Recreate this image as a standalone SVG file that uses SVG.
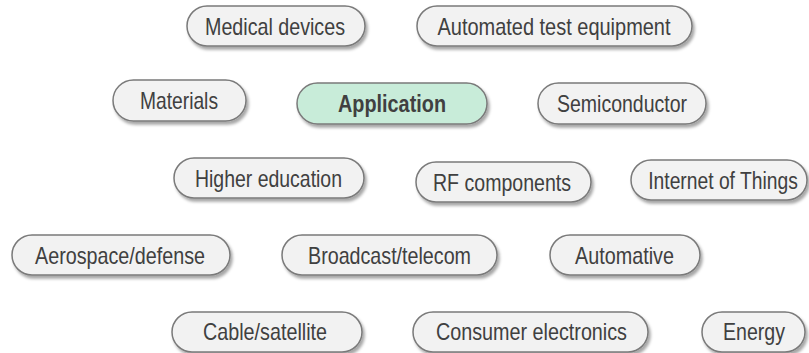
<svg xmlns="http://www.w3.org/2000/svg" width="809" height="353" viewBox="0 0 809 353">
<defs>
<filter id="sh" x="-10%" y="-20%" width="125%" height="160%">
<feDropShadow dx="2" dy="3" stdDeviation="1.8" flood-color="#000" flood-opacity="0.35"/>
</filter>
</defs>
<style>
.p{fill:#f2f2f2;stroke:#7a7a7a;stroke-width:1.5;filter:url(#sh)}
.a{fill:#c8ecd9}
.t{font-family:"Liberation Sans",Arial,sans-serif;font-size:24px;fill:#404040;text-anchor:middle}
.b{font-weight:bold}
</style>
<rect width="809" height="353" fill="#fff"/>
<g id="connectors"/>
<g id="n-medical"><rect class="p" x="187" y="6" width="178" height="40" rx="20"/><text class="t" x="275" y="35" textLength="140" lengthAdjust="spacingAndGlyphs">Medical devices</text></g>
<g id="n-ate"><rect class="p" x="417" y="6" width="275" height="40" rx="20"/><text class="t" x="554" y="35" textLength="233" lengthAdjust="spacingAndGlyphs">Automated test equipment</text></g>
<g id="n-materials"><rect class="p" x="113" y="80" width="133" height="41" rx="20.5"/><text class="t" x="179" y="109" textLength="78" lengthAdjust="spacingAndGlyphs">Materials</text></g>
<g id="n-application"><rect class="p a" x="297" y="83" width="190" height="41" rx="20.5"/><text class="t b" x="392" y="112" textLength="108" lengthAdjust="spacingAndGlyphs">Application</text></g>
<g id="n-semiconductor"><rect class="p" x="538" y="83" width="168" height="41" rx="20.5"/><text class="t" x="622" y="112" textLength="130" lengthAdjust="spacingAndGlyphs">Semiconductor</text></g>
<g id="n-higher"><rect class="p" x="174" y="158" width="190" height="40" rx="20"/><text class="t" x="268.5" y="187" textLength="147" lengthAdjust="spacingAndGlyphs">Higher education</text></g>
<g id="n-rf"><rect class="p" x="416" y="162" width="175" height="40" rx="20"/><text class="t" x="502" y="191" textLength="138" lengthAdjust="spacingAndGlyphs">RF components</text></g>
<g id="n-iot"><rect class="p" x="631" y="160" width="176" height="40" rx="20"/><text class="t" transform="translate(723,189) scale(0.803,1)" x="0" y="0">Internet of Things</text></g>
<g id="n-aerospace"><rect class="p" x="12" y="235" width="218" height="40" rx="20"/><text class="t" x="120" y="264" textLength="170" lengthAdjust="spacingAndGlyphs">Aerospace/defense</text></g>
<g id="n-broadcast"><rect class="p" x="282" y="235" width="215" height="40" rx="20"/><text class="t" x="389.5" y="264" textLength="163" lengthAdjust="spacingAndGlyphs">Broadcast/telecom</text></g>
<g id="n-automative"><rect class="p" x="550" y="235" width="150" height="40" rx="20"/><text class="t" x="624.5" y="264" textLength="99" lengthAdjust="spacingAndGlyphs">Automative</text></g>
<g id="n-cable"><rect class="p" x="172" y="312" width="190" height="40" rx="20"/><text class="t" x="265" y="340" textLength="124" lengthAdjust="spacingAndGlyphs">Cable/satellite</text></g>
<g id="n-consumer"><rect class="p" x="413" y="312" width="235" height="40" rx="20"/><text class="t" x="531.5" y="340" textLength="191" lengthAdjust="spacingAndGlyphs">Consumer electronics</text></g>
<g id="n-energy"><rect class="p" x="702" y="312" width="103" height="40" rx="20"/><text class="t" x="754" y="340" textLength="62" lengthAdjust="spacingAndGlyphs">Energy</text></g>
</svg>
